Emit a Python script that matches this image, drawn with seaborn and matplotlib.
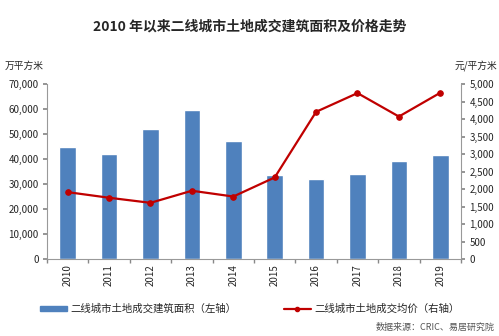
import matplotlib
matplotlib.use("Agg")
import matplotlib.pyplot as plt
import seaborn as sns
import pandas as pd
from matplotlib.patches import Patch
from matplotlib.lines import Line2D

years = ["2010", "2011", "2012", "2013", "2014", "2015", "2016", "2017", "2018", "2019"]
area = [44800, 41900, 51900, 59700, 47200, 33500, 31900, 34100, 39200, 41600]
price = [1910, 1750, 1605, 1950, 1785, 2330, 4205, 4740, 4070, 4750]
left_ticks = [0, 10000, 20000, 30000, 40000, 50000, 60000, 70000]
right_ticks = [0, 500, 1000, 1500, 2000, 2500, 3000, 3500, 4000, 4500, 5000]

sns.set_theme(style="white")
plt.rcParams['font.family'] = ['Noto Sans CJK SC', 'DejaVu Sans']

df = pd.DataFrame({"year": years, "area": area, "price": price})

fig = plt.figure(figsize=(4.99, 3.36), dpi=100)
ax = fig.add_axes([47/499, 1-259/336, (461-47)/499, (259-84)/336])
bar_c = "#4F81BD"
line_c = "#C00000"
sns.barplot(data=df, x="year", y="area", color=bar_c, width=0.4, ax=ax, saturation=1)
ax.set_ylim(0, 70000)
ax.set_yticks(left_ticks)
ax.set_yticklabels([f"{v:,}" for v in left_ticks], fontsize=7)
ax.set_xlim(-0.5, 9.5)
ax.set_xlabel("")
ax.set_ylabel("")
ax.tick_params(axis="x", labelrotation=90, labelsize=7, length=0, pad=4)
ax.tick_params(axis="y", length=3, color="#888888", pad=3, left=True)
ax.set_xticks([i + 0.5 for i in range(-1, 10)], minor=True)
ax.tick_params(axis="x", which="minor", length=3, color="#888888", bottom=True)

ax2 = ax.twinx()
sns.lineplot(x=list(range(len(years))), y=price, color=line_c, marker="o", markersize=4,
             markeredgecolor=line_c, linewidth=1.6, ax=ax2)
ax2.set_ylim(0, 5000)
ax2.set_xlim(-0.5, 9.5)
ax2.set_yticks(right_ticks)
ax2.set_yticklabels([f"{v:,}" for v in right_ticks], fontsize=7)
ax2.tick_params(axis="y", length=3, color="#888888", pad=3, right=True)
ax2.set_ylabel("")

for a in (ax, ax2):
    a.spines["top"].set_visible(False)
    for s in ("left", "right", "bottom"):
        a.spines[s].set_color("#999999")
        a.spines[s].set_linewidth(0.8)
ax.spines["right"].set_visible(False)
ax2.spines["left"].set_visible(False)
ax2.spines["bottom"].set_visible(False)

fig.text(0.5, 1-27/336, "2010 年以来二线城市土地成交建筑面积及价格走势", ha="center", va="center",
         fontsize=10, fontweight="bold")
fig.text(5/499, 1-66/336, "万平方米", ha="left", va="center", fontsize=7)
fig.text(497/499, 1-66/336, "元/平方米", ha="right", va="center", fontsize=7)

handles = [Patch(facecolor=bar_c, edgecolor=bar_c),
           Line2D([0], [0], color=line_c, marker="o", markersize=3, linewidth=1.6)]
labels = ["二线城市土地成交建筑面积（左轴）", "二线城市土地成交均价（右轴）"]
fig.legend(handles, labels, loc="center", bbox_to_anchor=(0.5, 1-309/336), ncol=2,
           frameon=False, fontsize=7.5, handlelength=2.6, handleheight=0.5,
           columnspacing=4.6, handletextpad=0.3)
fig.text(495/499, 1-327/336, "数据来源：CRIC、易居研究院", ha="right", va="center",
         fontsize=6.5, color="#555555")

fig.savefig("out.png", dpi=100)
